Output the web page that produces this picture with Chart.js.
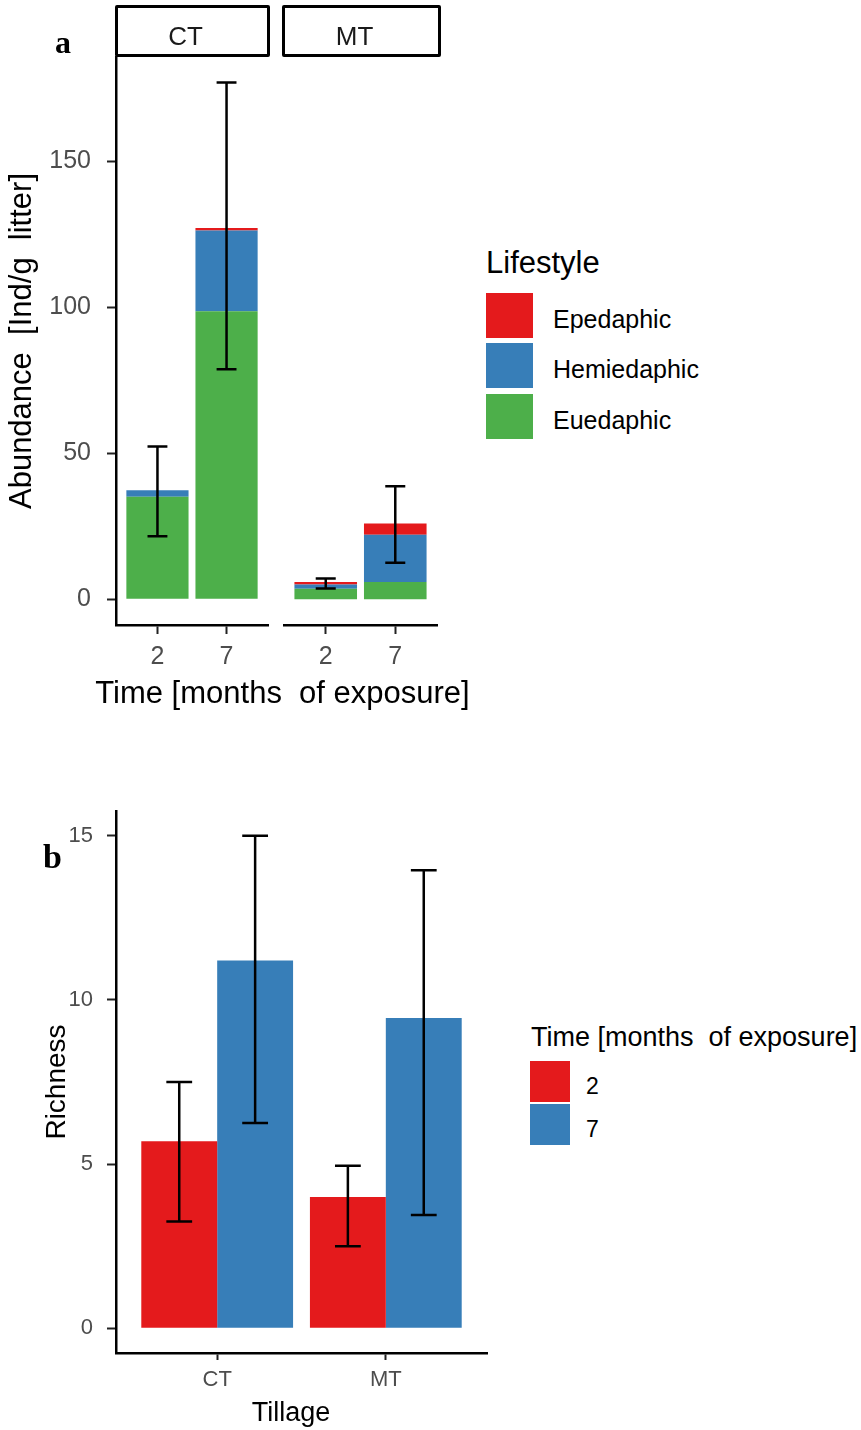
<!DOCTYPE html>
<html>
<head>
<meta charset="utf-8">
<script src="https://cdn.jsdelivr.net/npm/chart.js@4.4.1/dist/chart.umd.min.js"></script>
<style>
  html, body { margin: 0; padding: 0; background: #fff; }
  body { width: 861px; height: 1430px; position: relative; overflow: hidden;
         font-family: "Liberation Sans", Arial, sans-serif; }
  canvas { position: absolute; left: 0; }
  .txt { position: absolute; white-space: pre; line-height: 1; color: #000; }
  .tag { font-family: "Liberation Serif", "Times New Roman", serif; font-weight: bold; }
  .strip { position: absolute; box-sizing: border-box; border: 3.5px solid #000; border-radius: 2px; }
  .key { position: absolute; }
</style>
</head>
<body>
<canvas id="abundCT" width="280" height="720" style="top:0;width:280px;height:720px"></canvas>
<canvas id="abundMT" width="450" height="720" style="top:0;width:450px;height:720px"></canvas>
<canvas id="richness" width="500" height="670" style="top:760px;width:500px;height:670px"></canvas>
<div id="overlay"></div>

<script>
// ---- data: abundance by lifestyle (Ind/g litter), months 2 and 7 ----
const tillage = ['CT', 'MT'];
const months = ['2', '7'];
const lifestyles = ['Epedaphic', 'Hemiedaphic', 'Euedaphic'];
const lifestyleColors = ['#E41A1C', '#377EB8', '#4DAF4A'];

const ctEpedaphic = [0, 0.8];
const ctHemiedaphic = [2.2, 27.7];
const ctEuedaphic = [35.1, 98.7];
const mtEpedaphic = [0.9, 3.8];
const mtHemiedaphic = [1.4, 16.2];
const mtEuedaphic = [3.6, 5.9];

const ctAbundLow = [21.6, 78.8];
const ctAbundHigh = [52.3, 177.1];
const mtAbundLow = [3.7, 12.5];
const mtAbundHigh = [7.1, 38.7];
const abundanceTicks = [0, 50, 100, 150];

// ---- data: richness by tillage, months 2 and 7 ----
const timeColors = ['#E41A1C', '#377EB8'];
const richness2 = [5.7, 4.0];
const richness7 = [11.2, 9.45];
const richness2Low = [3.25, 2.5];
const richness2High = [7.5, 4.95];
const richness7Low = [6.25, 3.45];
const richness7High = [15.0, 13.95];
const richnessTicks = [0, 5, 10, 15];

Chart.defaults.font.family = '"Liberation Sans", Arial, sans-serif';
Chart.defaults.animation = false;

// whiskers drawn at each bar's centre, using the chart's y scale
const errorBars = {
  id: 'errorBars',
  afterDatasetsDraw(chart) {
    const ctx = chart.ctx;
    const yScale = chart.scales.y;
    chart.data.datasets.forEach((ds, di) => {
      if (!ds.errLow) return;
      const meta = chart.getDatasetMeta(di);
      meta.data.forEach((bar, i) => {
        const xc = bar.x;
        const half = bar.width * ds.errCap;
        const yl = yScale.getPixelForValue(ds.errLow[i]);
        const yh = yScale.getPixelForValue(ds.errHigh[i]);
        ctx.save();
        ctx.strokeStyle = '#000';
        ctx.lineWidth = 2.5;
        ctx.beginPath();
        ctx.moveTo(xc, yh); ctx.lineTo(xc, yl);
        ctx.moveTo(xc - half, yh); ctx.lineTo(xc + half, yh);
        ctx.moveTo(xc - half, yl); ctx.lineTo(xc + half, yl);
        ctx.stroke();
        ctx.restore();
      });
    });
  }
};

function points(values) {
  return values.map((v, i) => ({ x: i + 1, y: v }));
}

function discreteAxis(labels, o) {
  return {
    type: 'linear', min: 0.4, max: 2.6, offset: false, stacked: o.stacked,
    afterBuildTicks: s => { s.ticks = labels.map((_, i) => ({ value: i + 1 })); },
    afterFit: s => { s.height = o.height; },
    ticks: { callback: (v, i) => labels[i], color: '#4D4D4D', font: { size: o.font },
             padding: o.pad, maxRotation: 0, autoSkip: false },
    grid: { display: true, offset: false, drawOnChartArea: false, drawTicks: true,
            tickLength: o.tl, tickWidth: 2, tickColor: '#222' },
    border: { display: true, color: '#000', width: 2.5 }
  };
}

function valueAxis(o) {
  return {
    type: 'linear', min: o.min, max: o.max, stacked: o.stacked, display: o.display,
    afterBuildTicks: s => { s.ticks = o.ticks.map(v => ({ value: v })); },
    afterFit: s => { s.width = o.display ? o.width : 0; },
    ticks: { color: '#4D4D4D', font: { size: o.font }, padding: o.pad },
    grid: { display: true, drawOnChartArea: false, drawTicks: true,
            tickLength: 9, tickWidth: 2, tickColor: '#222' },
    border: { display: true, color: '#000', width: 2.5 },
    title: { display: !!o.title, text: o.title, color: '#000', font: { size: o.titleSize },
             padding: { top: o.titlePad, bottom: 0 } }
  };
}

function abundanceChart(id, epi, hemi, eu, low, high, showY, padding) {
  const series = [eu, hemi, epi];
  const names = [lifestyles[2], lifestyles[1], lifestyles[0]];
  const colors = [lifestyleColors[2], lifestyleColors[1], lifestyleColors[0]];
  const datasets = series.map((vals, k) => ({
    label: names[k], data: points(vals), backgroundColor: colors[k], borderWidth: 0,
    categoryPercentage: 0.9, barPercentage: 1
  }));
  // whiskers sit on the top segment of each stack
  datasets[2].errLow = low;
  datasets[2].errHigh = high;
  datasets[2].errCap = 0.16;
  return new Chart(document.getElementById(id), {
    type: 'bar',
    data: { datasets },
    options: {
      responsive: false, devicePixelRatio: 1,
      layout: { padding },
      plugins: { legend: { display: false }, tooltip: { enabled: false } },
      scales: {
        x: discreteAxis(months, { stacked: true, height: 95, font: 25, pad: 8, tl: 9 }),
        y: valueAxis({ min: -8.85, max: 185.85, stacked: true, display: showY, ticks: abundanceTicks,
                       width: 116, font: 25, pad: 16,
                       title: showY ? 'Abundance  [Ind/g  litter]' : '', titleSize: 31, titlePad: 4 })
      }
    },
    plugins: [errorBars]
  });
}

abundanceChart('abundCT', ctEpedaphic, ctHemiedaphic, ctEuedaphic, ctAbundLow, ctAbundHigh, true,
               { top: 57, right: 12, left: 0, bottom: 0 });
abundanceChart('abundMT', mtEpedaphic, mtHemiedaphic, mtEuedaphic, mtAbundLow, mtAbundHigh, false,
               { top: 57, right: 13, left: 284, bottom: 0 });

new Chart(document.getElementById('richness'), {
  type: 'bar',
  data: {
    datasets: [
      { label: months[0], data: points(richness2), backgroundColor: timeColors[0], borderWidth: 0,
        categoryPercentage: 0.9, barPercentage: 1,
        errLow: richness2Low, errHigh: richness2High, errCap: 0.17 },
      { label: months[1], data: points(richness7), backgroundColor: timeColors[1], borderWidth: 0,
        categoryPercentage: 0.9, barPercentage: 1,
        errLow: richness7Low, errHigh: richness7High, errCap: 0.17 }
    ]
  },
  options: {
    responsive: false, devicePixelRatio: 1,
    layout: { padding: { top: 51, right: 13, left: 0, bottom: 0 } },
    plugins: { legend: { display: false }, tooltip: { enabled: false } },
    scales: {
      x: discreteAxis(tillage, { stacked: false, height: 77, font: 22, pad: 7, tl: 7 }),
      y: valueAxis({ min: -0.75, max: 15.75, stacked: false, display: true, ticks: richnessTicks,
                     width: 116, font: 22, pad: 14, title: 'Richness', titleSize: 28, titlePad: 40 })
    }
  },
  plugins: [errorBars]
});

// ---- facet strips, panel tags, shared titles and legends ----
const overlay = document.getElementById('overlay');
function addText(text, css, cls) {
  const d = document.createElement('div');
  d.className = 'txt' + (cls ? ' ' + cls : '');
  d.textContent = text;
  Object.assign(d.style, css);
  overlay.appendChild(d);
  return d;
}
function addBox(cls, css) {
  const d = document.createElement('div');
  d.className = cls;
  Object.assign(d.style, css);
  overlay.appendChild(d);
}

const stripLefts = [115, 282];
const stripWidths = [155, 159];
tillage.forEach((t, i) => {
  addBox('strip', { left: stripLefts[i] + 'px', top: '5px', width: stripWidths[i] + 'px', height: '52px' });
  addText(t, { left: (stripLefts[i] - 7) + 'px', width: stripWidths[i] + 'px', textAlign: 'center',
               top: '23px', fontSize: '26px', color: '#1A1A1A' });
});

addText('a', { left: '55px', top: '26px', fontSize: '32px' }, 'tag');
addText('b', { left: '43px', top: '840px', fontSize: '34px' }, 'tag');

addText('Time [months  of exposure]', { left: '0px', width: '565px', textAlign: 'center',
        top: '677px', fontSize: '31px' });
addText('Tillage', { left: '0px', width: '582px', textAlign: 'center', top: '1399px', fontSize: '27px' });

addText('Lifestyle', { left: '486px', top: '247px', fontSize: '31px' });
const keyTops = [293, 343, 393.5];
lifestyles.forEach((name, i) => {
  addBox('key', { left: '486px', top: keyTops[i] + 'px', width: '47px', height: '45px',
                  background: lifestyleColors[i] });
  addText(name, { left: '553px', top: (keyTops[i] + 14) + 'px', fontSize: '25px' });
});

addText('Time [months  of exposure]', { left: '531px', top: '1024px', fontSize: '27px' });
const timeKeyTops = [1061, 1104];
months.forEach((m, i) => {
  addBox('key', { left: '530px', top: timeKeyTops[i] + 'px', width: '40px', height: '41px',
                  background: timeColors[i] });
  addText(m, { left: '586px', top: (timeKeyTops[i] + 14) + 'px', fontSize: '23px' });
});
</script>
</body>
</html>
